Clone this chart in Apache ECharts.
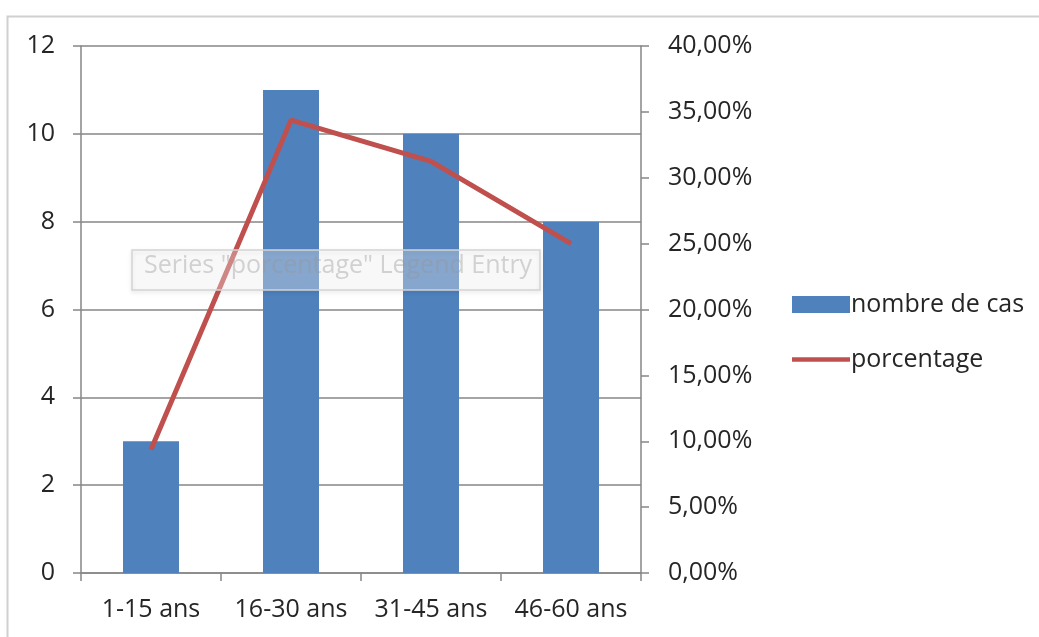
<!DOCTYPE html>
<html>
<head>
<meta charset="utf-8">
<script src="https://cdn.jsdelivr.net/npm/echarts@6/dist/echarts.min.js"></script>
<style>
  html, body { margin: 0; padding: 0; background: #fff; }
  #main { width: 1039px; height: 637px; }
</style>
</head>
<body>
<div id="main"></div>
<script>
var categories = ['1-15 ans', '16-30 ans', '31-45 ans', '46-60 ans'];
var nombreDeCas = [3, 11, 10, 8];
var porcentage = [0.09375, 0.34375, 0.3125, 0.25];

var axisGrey = '#868686';
var txt = '#262626';
var font = '"Open Sans", sans-serif';
var fs = 25;

var myChart = echarts.init(document.getElementById('main'));
var option = {
  backgroundColor: '#fff',
  animation: false,
  textStyle: { fontFamily: font },
  grid: { left: 81, right: 398, top: 46, bottom: 64, containLabel: false },
  legend: {
    orient: 'vertical',
    left: 787,
    top: 287,
    itemWidth: 58,
    itemHeight: 17,
    itemGap: 30,
    symbolKeepAspect: true,
    textStyle: { color: txt, fontSize: fs, fontFamily: font, padding: [0, 0, 0, -4] },
    data: [
      { name: 'nombre de cas', icon: 'rect' },
      { name: 'porcentage', icon: 'path://M0,0H64V5H0Z' }
    ]
  },
  xAxis: {
    type: 'category',
    data: categories,
    axisLine: { lineStyle: { color: axisGrey, width: 1.5 } },
    axisTick: { show: true, interval: 0, length: 8, lineStyle: { color: axisGrey, width: 1.5 } },
    axisLabel: { color: txt, fontSize: fs, margin: 24, interval: 0, fontFamily: font }
  },
  yAxis: [
    {
      type: 'value',
      min: 0, max: 12, interval: 2,
      axisLine: { show: true, lineStyle: { color: axisGrey, width: 1.5 } },
      axisTick: { show: true, length: 8, lineStyle: { color: axisGrey, width: 1.5 } },
      splitLine: { lineStyle: { color: axisGrey, width: 1.5 } },
      axisLabel: { color: txt, fontSize: fs, margin: 26, fontFamily: font }
    },
    {
      type: 'value',
      min: 0, max: 0.4, interval: 0.05,
      position: 'right',
      axisLine: { show: true, lineStyle: { color: axisGrey, width: 1.5 } },
      axisTick: { show: true, length: 8, lineStyle: { color: axisGrey, width: 1.5 } },
      splitLine: { show: false },
      axisLabel: {
        color: txt, fontSize: fs, margin: 27, fontFamily: font,
        formatter: function (v) {
          return (v * 100).toFixed(2).replace('.', ',') + '%';
        }
      }
    }
  ],
  series: [
    {
      name: 'nombre de cas',
      type: 'bar',
      yAxisIndex: 0,
      barWidth: 56,
      data: nombreDeCas,
      itemStyle: { color: '#4F81BD' }
    },
    {
      name: 'porcentage',
      type: 'line',
      yAxisIndex: 1,
      data: porcentage,
      symbol: 'none',
      lineStyle: { color: '#C0504D', width: 5 },
      itemStyle: { color: '#C0504D' }
    }
  ],
  graphic: [
    // chart area border (left + top)
    { type: 'polyline', shape: { points: [[7.5, 637], [7.5, 16.5], [1039, 16.5]] },
      style: { stroke: '#d0d0d0', lineWidth: 2, fill: null }, z: 0 },
    // hover label box
    { type: 'rect', shape: { x: 132, y: 250, width: 408, height: 40 },
      style: { fill: 'rgba(255,255,255,0.33)', stroke: '#d4d4d4', lineWidth: 1.5,
               shadowBlur: 4, shadowColor: 'rgba(0,0,0,0.12)', shadowOffsetY: 2 }, z: 100 },
    { type: 'text', left: 144, top: 253,
      style: { text: 'Series "porcentage" Legend Entry', fill: 'rgba(150,150,150,0.4)',
               font: '25px "Open Sans", sans-serif' }, z: 101 }
  ]
};
myChart.setOption(option);
</script>
</body>
</html>
